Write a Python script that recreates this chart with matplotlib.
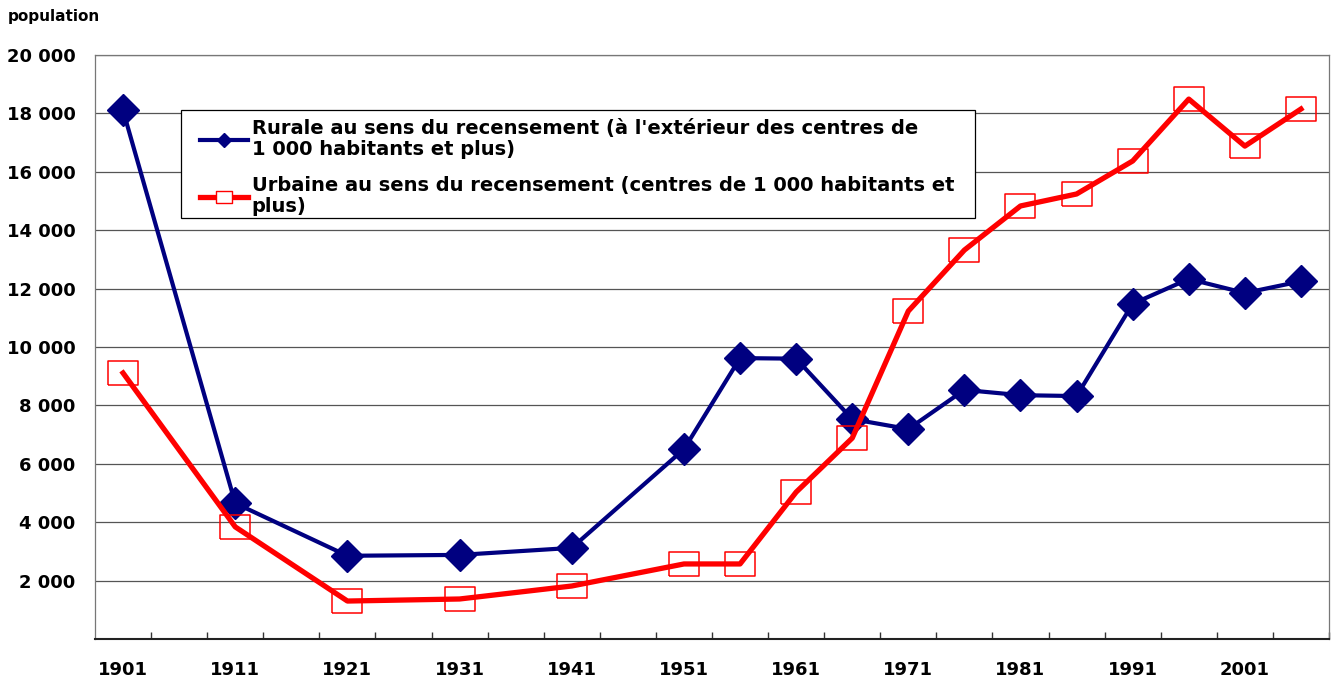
import numpy as np
import matplotlib
matplotlib.use("Agg")
import matplotlib.pyplot as plt
from matplotlib.lines import Line2D
from matplotlib.patches import Rectangle
from matplotlib.ticker import FixedLocator

# census years (every 5-year slot on the axis, data from 1901 to 2006)
years = [1901, 1911, 1921, 1931, 1941, 1951, 1956, 1961, 1966,
         1971, 1976, 1981, 1986, 1991, 1996, 2001, 2006]
rural = [18100, 4650, 2850, 2880, 3120, 6500, 9620, 9600, 7530,
         7190, 8530, 8350, 8320, 11480, 12330, 11850, 12250]
urban = [9110, 3840, 1300, 1370, 1815, 2570, 2570, 5030, 6880,
         11230, 13320, 14830, 15240, 16370, 18490, 16880, 18150]

label_years = list(range(1901, 2002, 10))
y_ticks = list(range(2000, 20001, 2000))

rural_label = "Rurale au sens du recensement (à l'extérieur des centres de\n1 000 habitants et plus)"
urban_label = "Urbaine au sens du recensement (centres de 1 000 habitants et\nplus)"

navy = "#000080"
red = "#ff0000"
rect = [(-1.28, -1), (1.28, -1), (1.28, 1), (-1.28, 1), (-1.28, -1)]

W, H = 1333, 679

plt.rcParams['font.family'] = ['DejaVu Sans']
plt.rcParams['font.weight'] = 'bold'

fig = plt.figure(figsize=(13.33, 6.79), dpi=100)
ax = fig.add_axes([95 / W, 1 - 639 / H, (1329 - 95) / W, (639 - 55) / H])

ax.plot(years, rural, color=navy, lw=3.0, marker='D', markersize=16,
        markerfacecolor=navy, markeredgecolor=navy, zorder=3)
ax.plot(years, urban, color=red, lw=3.8, marker=rect, markersize=21.6,
        markerfacecolor='none', markeredgecolor=red, markeredgewidth=1.1, zorder=4)

ax.set_xlim(1898.5, 2008.5)
ax.set_ylim(0, 20000)

# y axis
ax.set_yticks(y_ticks)
ax.set_yticklabels([f"{v:,}".replace(",", " ") for v in y_ticks], fontsize=13, fontweight='bold')
ax.tick_params(axis='y', length=0, pad=14)
ax.yaxis.grid(True, color='#555555', lw=0.9)
ax.set_axisbelow(True)

# x axis: labels every 10 years, tick marks between 5-year slots
ax.set_xticks(label_years)
ax.set_xticklabels([str(y) for y in label_years], fontsize=13, fontweight='bold')
ax.tick_params(axis='x', which='major', length=0, pad=16)
ax.xaxis.set_minor_locator(FixedLocator(np.arange(1898.5 + 5, 2008.6, 5)))
ax.tick_params(axis='x', which='minor', direction='in', length=5, width=1.0, color='#333333')

for side in ['top', 'right', 'left']:
    ax.spines[side].set_color('#777777')
    ax.spines[side].set_linewidth(0.9)
ax.spines['bottom'].set_color('#222222')
ax.spines['bottom'].set_linewidth(1.5)

fig.text(8 / W, 1 - 16 / H, "population", fontsize=11, fontweight='bold',
         ha='left', va='center')

# legend (frame drawn separately)
ax.add_patch(Rectangle((181 / W, 1 - 218 / H), (975 - 181) / W, (218 - 110) / H,
                       transform=fig.transFigure, facecolor='white',
                       edgecolor='black', lw=0.9, zorder=4.5, clip_on=False))
handles = [
    Line2D([], [], color=navy, lw=3.0, marker='D', markersize=7,
           markerfacecolor=navy, markeredgecolor=navy),
    Line2D([], [], color=red, lw=3.8, marker=rect, markersize=11.5,
           markerfacecolor='white', markeredgecolor=red, markeredgewidth=1.0),
]
leg = ax.legend(handles, [rural_label, urban_label], loc='upper left',
                bbox_to_anchor=(200 / W, 1 - 119 / H), bbox_transform=fig.transFigure,
                borderaxespad=0, borderpad=0, frameon=False,
                prop={'size': 14, 'weight': 'bold'}, handlelength=2.45,
                handletextpad=0.2, labelspacing=0.9)
for t in leg.get_texts():
    t.set_linespacing(1.12)
leg.set_zorder(5)

fig.savefig("out.png", dpi=100)
